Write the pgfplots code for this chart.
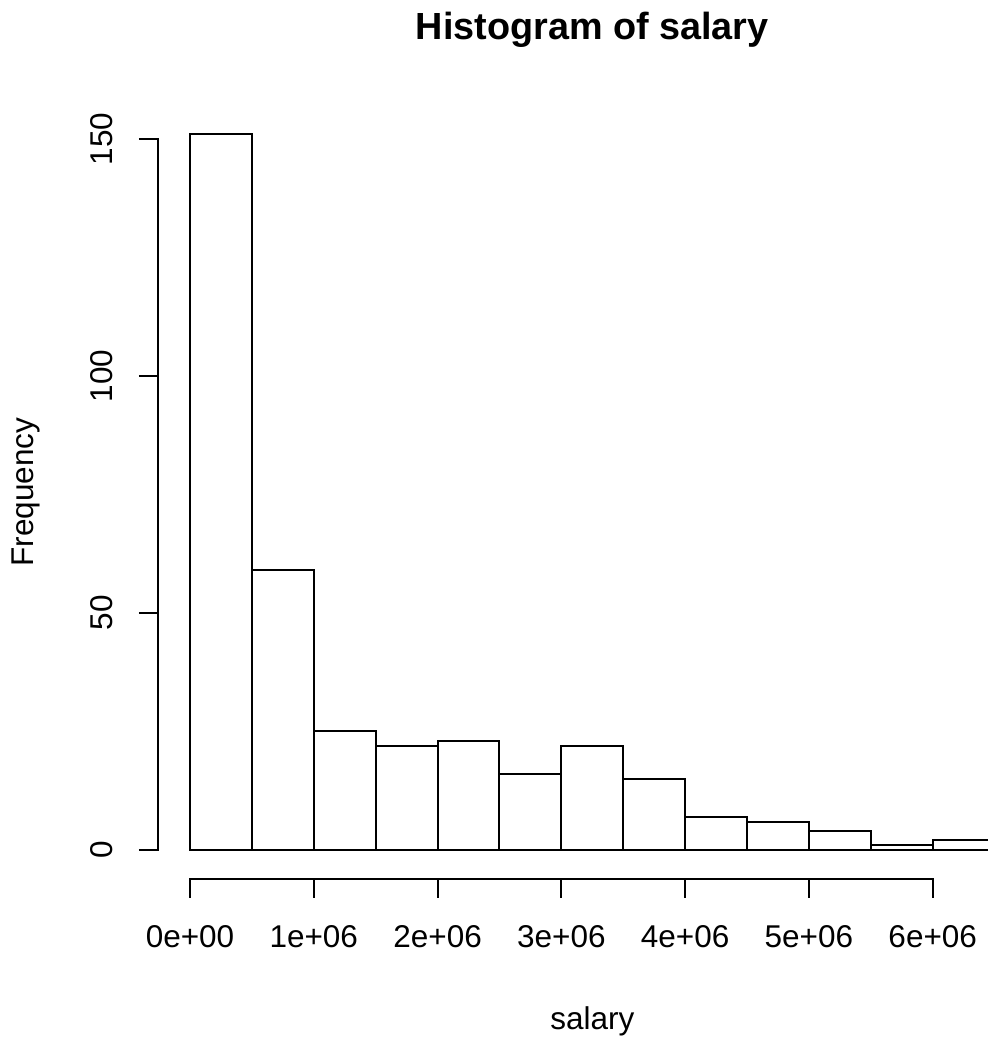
\documentclass[border=0pt]{standalone}
\usepackage{fontspec}
\setmainfont{Liberation Sans}
\usepackage{pgfplots}
\pgfplotsset{compat=1.18}
\begin{document}
\begin{tikzpicture}
\begin{axis}[
  at={(78.9pt,80.2pt)}, anchor=south west,
  scale only axis, width=434.5pt, height=386.5pt,
  xmin=-0.26e6, xmax=6.76e6, ymin=-6.04, ymax=157.04,
  clip=false,
  axis line style={draw=none},
  tick pos=left,
  tick align=outside,
  major tick length=9.5pt,
  tick style={black, line width=1pt},
  xtick={0,1000000,2000000,3000000,4000000,5000000,6000000},
  xticklabels={0e+00,1e+06,2e+06,3e+06,4e+06,5e+06,6e+06},
  ytick={0,50,100,150},
  yticklabels={0,50,100,150},
  scaled x ticks=false,
  tick label style={font=\fontsize{15.75}{19}\selectfont, inner sep=0pt},
  xticklabel style={anchor=north},
  yticklabel style={rotate=90, anchor=south},
  xticklabel shift=14pt,
  yticklabel shift=13pt,
  xlabel={salary},
  ylabel={Frequency},
  every axis x label/.style={at={(axis description cs:0.5,0)}, yshift=-75.2pt, anchor=base, inner sep=0pt, font=\fontsize{15.75}{19}\selectfont},
  every axis y label/.style={at={(axis description cs:0,0.5)}, xshift=-62pt, rotate=90, anchor=base, inner sep=0pt, font=\fontsize{15.75}{19}\selectfont},
  title={Histogram of salary},
  every axis title/.style={at={(axis description cs:0.5,1)}, yshift=33.15pt, anchor=base, inner sep=0pt, font=\fontsize{18.9}{23}\selectfont\bfseries},
]
\addplot[ybar interval, draw=black, fill=white, line width=1pt] coordinates {
  (0,151) (500000,59) (1000000,25) (1500000,22) (2000000,23) (2500000,16)
  (3000000,22) (3500000,15) (4000000,7) (4500000,6) (5000000,4) (5500000,1)
  (6000000,2) (6500000,2)
};
\draw[line width=1pt, line cap=rect] (axis cs:0,-6.04) -- (axis cs:6000000,-6.04);
\draw[line width=1pt, line cap=rect] (axis cs:-260000,0) -- (axis cs:-260000,150);
\end{axis}
\pgfresetboundingbox
\useasboundingbox (0,0) rectangle (493.5pt,519.5pt);
\end{tikzpicture}
\end{document}
